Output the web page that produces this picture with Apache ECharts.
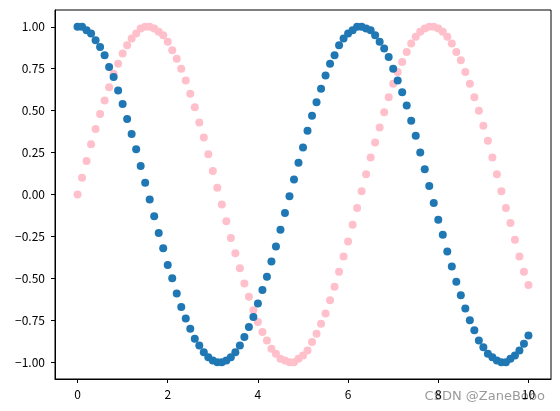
<!DOCTYPE html>
<html>
<head>
<meta charset="utf-8">
<script src="https://cdn.jsdelivr.net/npm/echarts@6/dist/echarts.min.js"></script>
<style>
  html, body { margin: 0; padding: 0; background: #fff; }
  #main { width: 560px; height: 411px; }
</style>
</head>
<body>
<div id="main"></div>
<script>
// x 取值 0 ~ 10，步长 0.1
const xs = [0, 0.1, 0.2, 0.3, 0.4, 0.5, 0.6, 0.7, 0.8, 0.9,
  1, 1.1, 1.2, 1.3, 1.4, 1.5, 1.6, 1.7, 1.8, 1.9,
  2, 2.1, 2.2, 2.3, 2.4, 2.5, 2.6, 2.7, 2.8, 2.9,
  3, 3.1, 3.2, 3.3, 3.4, 3.5, 3.6, 3.7, 3.8, 3.9,
  4, 4.1, 4.2, 4.3, 4.4, 4.5, 4.6, 4.7, 4.8, 4.9,
  5, 5.1, 5.2, 5.3, 5.4, 5.5, 5.6, 5.7, 5.8, 5.9,
  6, 6.1, 6.2, 6.3, 6.4, 6.5, 6.6, 6.7, 6.8, 6.9,
  7, 7.1, 7.2, 7.3, 7.4, 7.5, 7.6, 7.7, 7.8, 7.9,
  8, 8.1, 8.2, 8.3, 8.4, 8.5, 8.6, 8.7, 8.8, 8.9,
  9, 9.1, 9.2, 9.3, 9.4, 9.5, 9.6, 9.7, 9.8, 9.9, 10];

// 粉色点 (正弦)
const sinVals = [0.00, 0.10, 0.20, 0.30, 0.39, 0.48, 0.56, 0.64, 0.72, 0.78,
  0.84, 0.89, 0.93, 0.96, 0.99, 1.00, 1.00, 0.99, 0.97, 0.95,
  0.91, 0.86, 0.81, 0.75, 0.68, 0.60, 0.52, 0.43, 0.34, 0.24,
  0.14, 0.04, -0.06, -0.16, -0.26, -0.35, -0.44, -0.53, -0.61, -0.69,
  -0.76, -0.82, -0.87, -0.92, -0.95, -0.98, -0.99, -1.00, -1.00, -0.98,
  -0.96, -0.93, -0.88, -0.83, -0.77, -0.71, -0.63, -0.55, -0.46, -0.37,
  -0.28, -0.18, -0.08, 0.02, 0.12, 0.22, 0.31, 0.40, 0.49, 0.58,
  0.66, 0.73, 0.79, 0.85, 0.90, 0.94, 0.97, 0.99, 1.00, 1.00,
  0.99, 0.97, 0.94, 0.90, 0.85, 0.80, 0.73, 0.66, 0.58, 0.50,
  0.41, 0.32, 0.22, 0.12, 0.02, -0.08, -0.17, -0.27, -0.37, -0.46, -0.54];

// 蓝色点 (余弦)
const cosVals = [1.00, 1.00, 0.98, 0.96, 0.92, 0.88, 0.83, 0.76, 0.70, 0.62,
  0.54, 0.45, 0.36, 0.27, 0.17, 0.07, -0.03, -0.13, -0.23, -0.32,
  -0.42, -0.50, -0.59, -0.67, -0.74, -0.80, -0.86, -0.90, -0.94, -0.97,
  -0.99, -1.00, -1.00, -0.99, -0.97, -0.94, -0.90, -0.85, -0.79, -0.73,
  -0.65, -0.57, -0.49, -0.40, -0.31, -0.21, -0.11, -0.01, 0.09, 0.19,
  0.28, 0.38, 0.47, 0.55, 0.63, 0.71, 0.78, 0.83, 0.89, 0.93,
  0.96, 0.98, 1.00, 1.00, 0.99, 0.98, 0.95, 0.91, 0.87, 0.82,
  0.75, 0.68, 0.61, 0.53, 0.44, 0.35, 0.25, 0.15, 0.05, -0.05,
  -0.15, -0.24, -0.34, -0.43, -0.52, -0.60, -0.68, -0.75, -0.81, -0.87,
  -0.91, -0.95, -0.97, -0.99, -1.00, -1.00, -0.98, -0.96, -0.93, -0.89, -0.84];

const xTicks = [0, 2, 4, 6, 8, 10];
const yTicks = [-1, -0.75, -0.5, -0.25, 0, 0.25, 0.5, 0.75, 1];

const chart = echarts.init(document.getElementById('main'), null, { renderer: 'canvas' });

const fontFamily = '"Noto Sans CJK SC", "DejaVu Sans", sans-serif';

const option = {
  animation: false,
  backgroundColor: '#fff',
  grid: {
    left: 55, right: 9, top: 10, bottom: 32,
    show: true, borderColor: '#000', borderWidth: 1, backgroundColor: 'transparent'
  },
  xAxis: {
    type: 'value',
    min: -0.5,
    max: 10.5,
    splitLine: { show: false },
    axisLine: { show: true, onZero: false, lineStyle: { color: '#000', width: 1 } },
    axisTick: { show: true, length: 4, lineStyle: { color: '#000' }, customValues: xTicks },
    axisLabel: {
      color: '#000', fontSize: 12, fontFamily: fontFamily, margin: 9,
      customValues: xTicks,
      formatter: v => String(v)
    }
  },
  yAxis: {
    type: 'value',
    min: -1.1,
    max: 1.1,
    splitLine: { show: false },
    axisLine: { show: true, onZero: false, lineStyle: { color: '#000', width: 1 } },
    axisTick: { show: true, length: 4, lineStyle: { color: '#000' }, customValues: yTicks },
    axisLabel: {
      color: '#000', fontSize: 12, fontFamily: fontFamily, margin: 10,
      customValues: yTicks,
      formatter: v => v.toFixed(2).replace('-', '\u2212')
    }
  },
  series: [
    {
      name: 'sin',
      type: 'scatter',
      symbolSize: 8,
      itemStyle: { color: '#ffc0cb', opacity: 1 },
      data: xs.map((x, i) => [x, sinVals[i]])
    },
    {
      name: 'cos',
      type: 'scatter',
      symbolSize: 8,
      itemStyle: { color: '#1f77b4', opacity: 1 },
      data: xs.map((x, i) => [x, cosVals[i]])
    }
  ],
  graphic: [
    {
      type: 'text',
      right: 15,
      bottom: 8,
      style: {
        text: 'CSDN @ZaneBobo',
        fill: 'rgba(120,120,120,0.75)',
        font: '13px "DejaVu Sans", sans-serif'
      }
    }
  ]
};

chart.setOption(option);
</script>
</body>
</html>
